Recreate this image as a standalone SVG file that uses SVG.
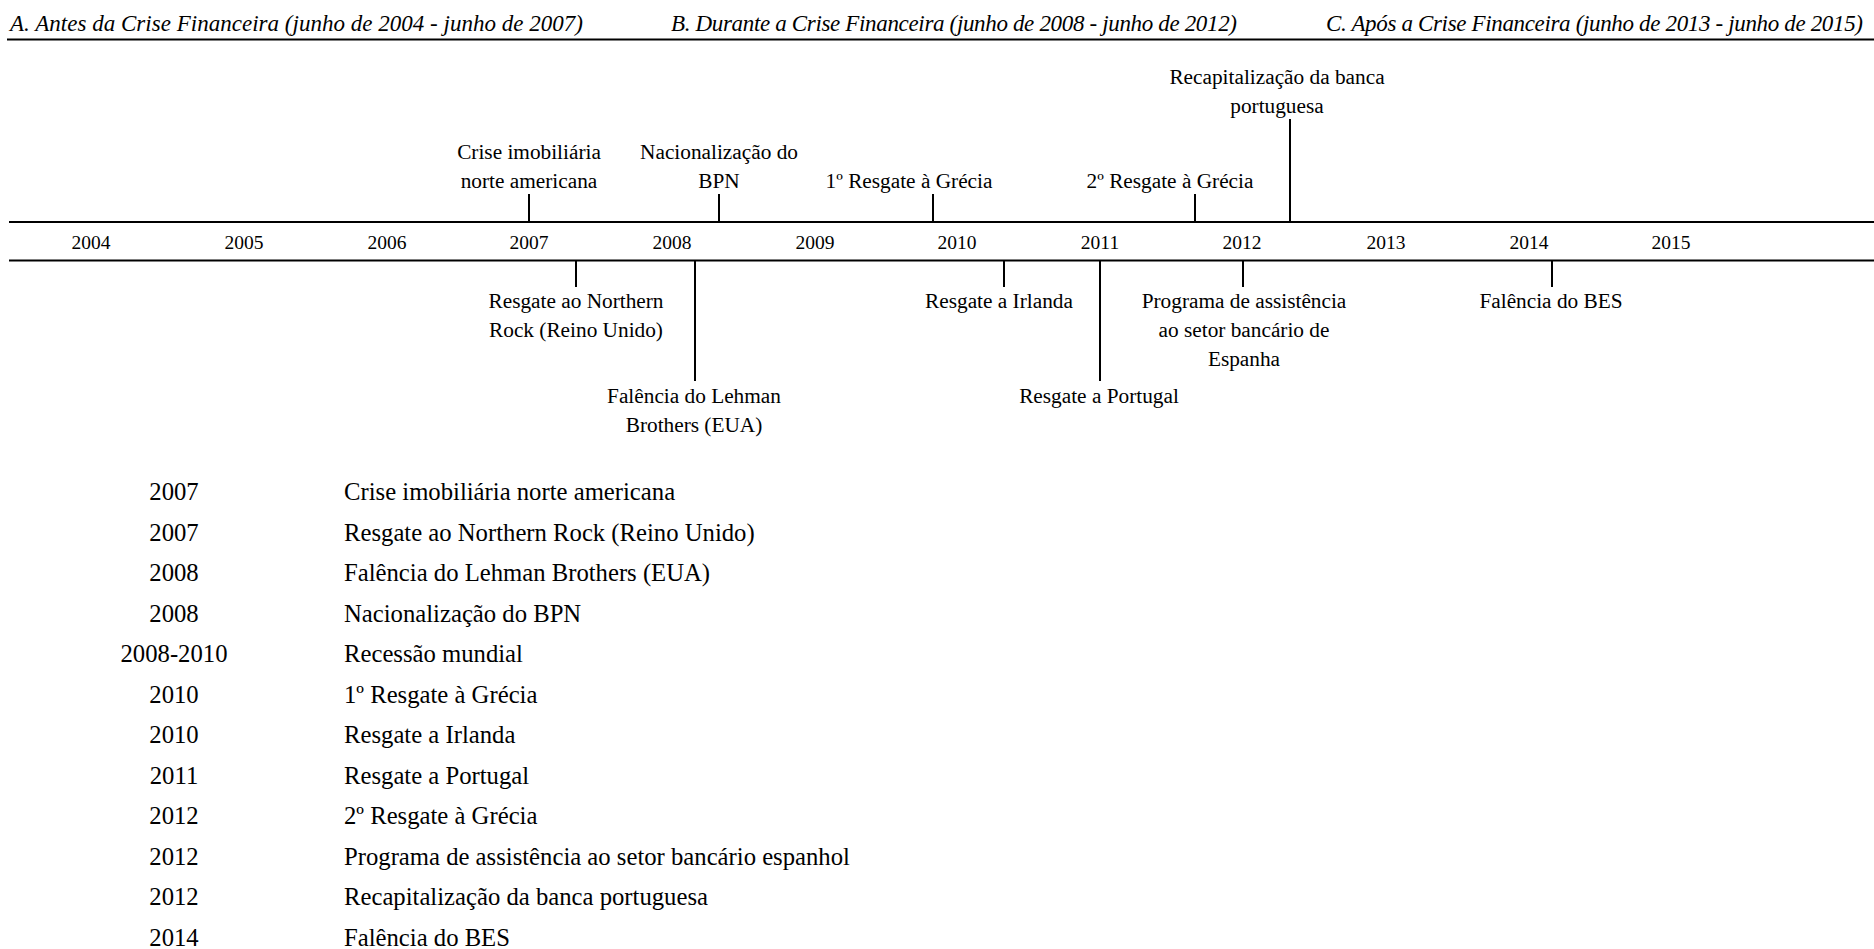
<svg xmlns="http://www.w3.org/2000/svg" width="1874" height="949" viewBox="0 0 1874 949">
<style>
.hd{font-family:"Liberation Serif",serif;font-style:italic;font-size:23px;fill:#000}
.yr{font-family:"Liberation Serif",serif;font-size:19.5px;fill:#000;text-anchor:middle}
.lb{font-family:"Liberation Serif",serif;font-size:21.3px;fill:#000;text-anchor:middle}
.tb{font-family:"Liberation Serif",serif;font-size:24.7px;fill:#000}
.ty{text-anchor:middle}
.ln{stroke:#000;stroke-width:2;fill:none}
</style>
<rect width="1874" height="949" fill="#fff"/>
<g id="headers">
<text class="hd" x="10" y="31" textLength="573">A. Antes da Crise Financeira (junho de 2004 - junho de 2007)</text>
<text class="hd" x="671" y="31" textLength="566">B. Durante a Crise Financeira (junho de 2008 - junho de 2012)</text>
<text class="hd" x="1326" y="31" textLength="537">C. Após a Crise Financeira (junho de 2013 - junho de 2015)</text>
<line class="ln" x1="7" y1="39.5" x2="1874" y2="39.5"/>
</g>
<g id="axis">
<line class="ln" x1="9" y1="222" x2="1874" y2="222"/>
<line class="ln" x1="9" y1="260.5" x2="1874" y2="260.5"/>
<text class="yr" x="91" y="249">2004</text>
<text class="yr" x="244" y="249">2005</text>
<text class="yr" x="387" y="249">2006</text>
<text class="yr" x="529" y="249">2007</text>
<text class="yr" x="672" y="249">2008</text>
<text class="yr" x="815" y="249">2009</text>
<text class="yr" x="957" y="249">2010</text>
<text class="yr" x="1100" y="249">2011</text>
<text class="yr" x="1242" y="249">2012</text>
<text class="yr" x="1386" y="249">2013</text>
<text class="yr" x="1529" y="249">2014</text>
<text class="yr" x="1671" y="249">2015</text>
</g>
<g id="connectors">
<line class="ln" x1="529" y1="194" x2="529" y2="222"/>
<line class="ln" x1="719" y1="194" x2="719" y2="222"/>
<line class="ln" x1="933" y1="194" x2="933" y2="222"/>
<line class="ln" x1="1195" y1="194" x2="1195" y2="222"/>
<line class="ln" x1="1290" y1="119" x2="1290" y2="222"/>
<line class="ln" x1="576" y1="261" x2="576" y2="287"/>
<line class="ln" x1="695" y1="261" x2="695" y2="381"/>
<line class="ln" x1="1004" y1="261" x2="1004" y2="287"/>
<line class="ln" x1="1100" y1="261" x2="1100" y2="381"/>
<line class="ln" x1="1243" y1="261" x2="1243" y2="287"/>
<line class="ln" x1="1552" y1="261" x2="1552" y2="287"/>
</g>
<g id="ev-crise-imobiliaria">
<text class="lb" x="529" y="159">Crise imobiliária</text>
<text class="lb" x="529" y="188">norte americana</text>
</g>
<g id="ev-bpn">
<text class="lb" x="719" y="159">Nacionalização do</text>
<text class="lb" x="719" y="188">BPN</text>
</g>
<g id="ev-grecia1">
<text class="lb" x="909" y="188">1º Resgate à Grécia</text>
</g>
<g id="ev-grecia2">
<text class="lb" x="1170" y="188">2º Resgate à Grécia</text>
</g>
<g id="ev-recap">
<text class="lb" x="1277" y="84">Recapitalização da banca</text>
<text class="lb" x="1277" y="113">portuguesa</text>
</g>
<g id="ev-northern-rock">
<text class="lb" x="576" y="308">Resgate ao Northern</text>
<text class="lb" x="576" y="337">Rock (Reino Unido)</text>
</g>
<g id="ev-lehman">
<text class="lb" x="694" y="403">Falência do Lehman</text>
<text class="lb" x="694" y="432">Brothers (EUA)</text>
</g>
<g id="ev-irlanda">
<text class="lb" x="999" y="308">Resgate a Irlanda</text>
</g>
<g id="ev-portugal">
<text class="lb" x="1099" y="403">Resgate a Portugal</text>
</g>
<g id="ev-espanha">
<text class="lb" x="1244" y="308">Programa de assistência</text>
<text class="lb" x="1244" y="337">ao setor bancário de</text>
<text class="lb" x="1244" y="366">Espanha</text>
</g>
<g id="ev-bes">
<text class="lb" x="1551" y="308">Falência do BES</text>
</g>
<g id="table">
<text class="tb ty" x="174" y="500">2007</text><text class="tb" x="344" y="500">Crise imobiliária norte americana</text>
<text class="tb ty" x="174" y="540.5">2007</text><text class="tb" x="344" y="540.5">Resgate ao Northern Rock (Reino Unido)</text>
<text class="tb ty" x="174" y="581">2008</text><text class="tb" x="344" y="581">Falência do Lehman Brothers (EUA)</text>
<text class="tb ty" x="174" y="621.5">2008</text><text class="tb" x="344" y="621.5">Nacionalização do BPN</text>
<text class="tb ty" x="174" y="662">2008-2010</text><text class="tb" x="344" y="662">Recessão mundial</text>
<text class="tb ty" x="174" y="702.5">2010</text><text class="tb" x="344" y="702.5">1º Resgate à Grécia</text>
<text class="tb ty" x="174" y="743">2010</text><text class="tb" x="344" y="743">Resgate a Irlanda</text>
<text class="tb ty" x="174" y="783.5">2011</text><text class="tb" x="344" y="783.5">Resgate a Portugal</text>
<text class="tb ty" x="174" y="824">2012</text><text class="tb" x="344" y="824">2º Resgate à Grécia</text>
<text class="tb ty" x="174" y="864.5">2012</text><text class="tb" x="344" y="864.5">Programa de assistência ao setor bancário espanhol</text>
<text class="tb ty" x="174" y="905">2012</text><text class="tb" x="344" y="905">Recapitalização da banca portuguesa</text>
<text class="tb ty" x="174" y="945.5">2014</text><text class="tb" x="344" y="945.5">Falência do BES</text>
</g>
</svg>
